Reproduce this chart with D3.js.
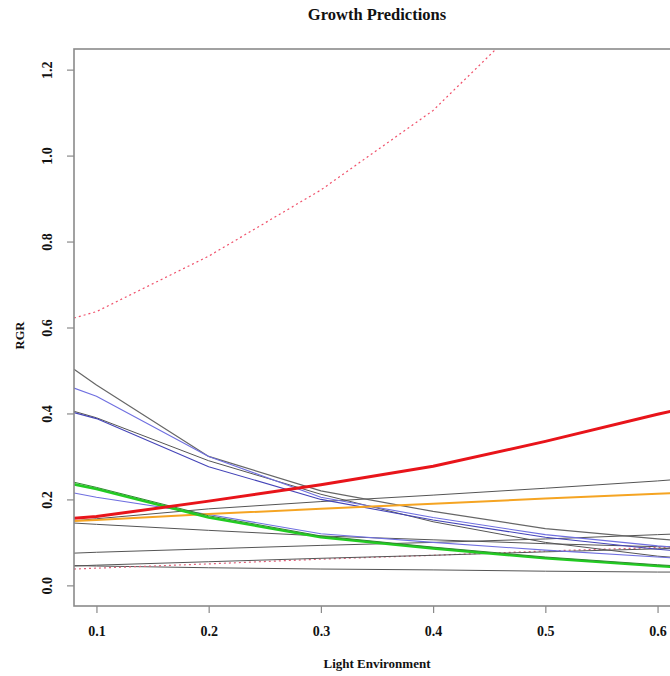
<!DOCTYPE html>
<html>
<head>
<meta charset="utf-8">
<script src="https://cdn.jsdelivr.net/npm/d3@7"></script>
<style>
  body { margin: 0; background: #fff; }
  svg text { font-family: "Liberation Serif", "Times New Roman", serif; font-weight: bold; fill: #111; }
</style>
</head>
<body>
<div id="wrapper"></div>
<script>
// light environment values where each prediction is evaluated
const lightLevels = [0.08, 0.1, 0.2, 0.3, 0.4, 0.5, 0.6, 0.62]

// predicted RGR for each line
const blackA   = [0.503, 0.466, 0.300, 0.220, 0.172, 0.132, 0.108, 0.104]
const blueB    = [0.459, 0.440, 0.300, 0.205, 0.158, 0.118, 0.092, 0.088]
const blackC   = [0.405, 0.390, 0.290, 0.212, 0.148, 0.100, 0.068, 0.064]
const blueD    = [0.402, 0.388, 0.276, 0.200, 0.152, 0.112, 0.084, 0.080]
const blueE    = [0.215, 0.205, 0.165, 0.120, 0.100, 0.082, 0.066, 0.063]
const greenDk  = [0.240, 0.228, 0.162, 0.115, 0.089, 0.066, 0.048, 0.045]
const greenLt  = [0.235, 0.224, 0.158, 0.112, 0.086, 0.063, 0.045, 0.042]
const redMean  = [0.156, 0.160, 0.196, 0.234, 0.277, 0.335, 0.398, 0.410]
const orange   = [0.150, 0.152, 0.166, 0.178, 0.190, 0.202, 0.213, 0.215]
const blackF   = [0.150, 0.155, 0.178, 0.195, 0.210, 0.226, 0.243, 0.247]
const blackG   = [0.145, 0.142, 0.128, 0.115, 0.106, 0.097, 0.090, 0.089]
const blackH   = [0.075, 0.077, 0.085, 0.093, 0.100, 0.108, 0.118, 0.120]
const blackI   = [0.045, 0.047, 0.055, 0.063, 0.070, 0.078, 0.085, 0.087]
const blackJ   = [0.046, 0.045, 0.041, 0.038, 0.036, 0.033, 0.031, 0.031]
const redLow   = [0.038, 0.040, 0.050, 0.061, 0.070, 0.080, 0.088, 0.090]
const redHigh  = [0.622, 0.637, 0.766, 0.920, 1.105, 1.360, 1.650, 1.710]

const xTicks = [0.1, 0.2, 0.3, 0.4, 0.5, 0.6]
const yTicks = [0.0, 0.2, 0.4, 0.6, 0.8, 1.0, 1.2]

// drawing order and styles
const series = [
  { values: redHigh, color: "#f0506a", width: 1.2, dash: "2,3" },
  { values: blackJ,  color: "#555", width: 1 },
  { values: redLow,  color: "#e0607a", width: 1.2, dash: "2,3" },
  { values: blackI,  color: "#555", width: 1 },
  { values: blackH,  color: "#555", width: 1 },
  { values: blackG,  color: "#555", width: 1 },
  { values: blackF,  color: "#555", width: 1 },
  { values: blackC,  color: "#555", width: 1 },
  { values: blackA,  color: "#666", width: 1.2 },
  { values: blueB,   color: "#6f6fe0", width: 1.1 },
  { values: blueD,   color: "#4444b8", width: 1.1 },
  { values: blueE,   color: "#6f6fe0", width: 1.1 },
  { values: orange,  color: "#f5a422", width: 2 },
  { values: greenLt, color: "#22cc22", width: 2.6 },
  { values: greenDk, color: "#2e8b2e", width: 1 },
  { values: redMean, color: "#e8141a", width: 3 },
]

// dimensions
let dimensions = {
  width: 670,
  height: 676,
  margin: { top: 49, left: 74 },
  plotRight: 680,
  plotBottom: 606,
}

const wrapper = d3.select("#wrapper")
  .append("svg")
    .attr("width", dimensions.width)
    .attr("height", dimensions.height)

// scales (R style 4% padding)
const xScale = d3.scaleLinear()
  .domain([0.08, 0.62])
  .range([dimensions.margin.left, dimensions.plotRight])

const yScale = d3.scaleLinear()
  .domain([-0.048, 1.248])
  .range([dimensions.plotBottom, dimensions.margin.top])

wrapper.append("defs").append("clipPath")
    .attr("id", "plot-clip")
  .append("rect")
    .attr("x", dimensions.margin.left)
    .attr("y", dimensions.margin.top)
    .attr("width", dimensions.plotRight - dimensions.margin.left)
    .attr("height", dimensions.plotBottom - dimensions.margin.top)

// lines
const lineGen = d3.line()
  .x((d, i) => xScale(lightLevels[i]))
  .y(d => yScale(d))

wrapper.append("g")
    .attr("clip-path", "url(#plot-clip)")
  .selectAll("path")
  .data(series)
  .enter().append("path")
    .attr("d", d => lineGen(d.values))
    .attr("fill", "none")
    .attr("stroke", d => d.color)
    .attr("stroke-width", d => d.width)
    .attr("stroke-dasharray", d => d.dash || null)
    .attr("stroke-linejoin", "round")

// frame
wrapper.append("rect")
  .attr("x", dimensions.margin.left)
  .attr("y", dimensions.margin.top)
  .attr("width", dimensions.plotRight - dimensions.margin.left)
  .attr("height", dimensions.plotBottom - dimensions.margin.top)
  .attr("fill", "none")
  .attr("stroke", "#8a8a8a")
  .attr("stroke-width", 1.6)

// axes
const xAxis = wrapper.append("g")
  .attr("transform", `translate(0, ${dimensions.plotBottom})`)
  .call(d3.axisBottom(xScale)
    .tickValues(xTicks)
    .tickFormat(d3.format(".1f"))
    .tickSizeOuter(0)
    .tickSize(7)
    .tickPadding(13))
xAxis.select(".domain").remove()
xAxis.selectAll("line").attr("stroke", "#8a8a8a").attr("stroke-width", 1.2)
xAxis.selectAll("text").style("font-size", "14px")

const yAxis = wrapper.append("g")
  .attr("transform", `translate(${dimensions.margin.left}, 0)`)
  .call(d3.axisLeft(yScale)
    .tickValues(yTicks)
    .tickFormat(d3.format(".1f"))
    .tickSizeOuter(0)
    .tickSize(7))
yAxis.select(".domain").remove()
yAxis.selectAll("line").attr("stroke", "#8a8a8a").attr("stroke-width", 1.2)
yAxis.selectAll("text")
  .style("font-size", "14px")
  .attr("x", 0)
  .attr("dy", null)
  .attr("text-anchor", "middle")
  .attr("transform", "translate(-27, 0) rotate(-90)")
  .attr("y", 0)
  .attr("dominant-baseline", "central")

// titles
const plotCenterX = (dimensions.margin.left + dimensions.plotRight) / 2
const plotCenterY = (dimensions.margin.top + dimensions.plotBottom) / 2

wrapper.append("text")
  .attr("x", plotCenterX)
  .attr("y", 20)
  .attr("text-anchor", "middle")
  .style("font-size", "16.5px")
  .text("Growth Predictions")

wrapper.append("text")
  .attr("x", plotCenterX)
  .attr("y", 668)
  .attr("text-anchor", "middle")
  .style("font-size", "13px")
  .text("Light Environment")

wrapper.append("text")
  .attr("transform", `translate(20, ${plotCenterY + 8}) rotate(-90)`)
  .attr("text-anchor", "middle")
  .attr("dominant-baseline", "central")
  .style("font-size", "12.5px")
  .text("RGR")
</script>
</body>
</html>
